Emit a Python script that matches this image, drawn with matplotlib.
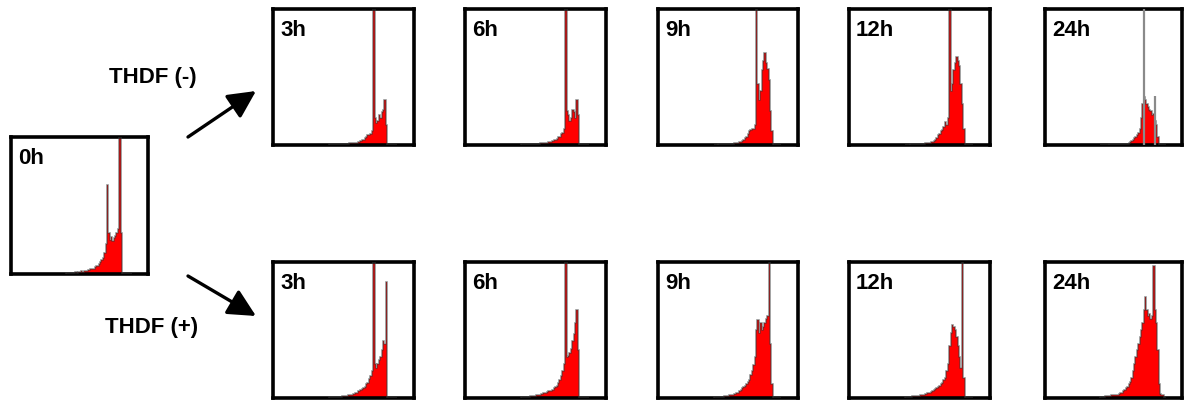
import numpy as np
import matplotlib
matplotlib.use("Agg")
import matplotlib.pyplot as plt

# ---------------- data ----------------
bin_start = 0.40
bin_width = 0.01
n_bins = 48

time_labels = ["3h", "6h", "9h", "12h", "24h"]
row_labels = ["THDF (-)", "THDF (+)"]

h0 = [0.005, 0.005, 0.01, 0.005, 0.01, 0.01, 0.01, 0.015, 0.01, 0.015,
      0.015, 0.02, 0.015, 0.02, 0.02, 0.025, 0.03, 0.03, 0.04, 0.035,
      0.04, 0.05, 0.06, 0.06, 0.07, 0.09, 0.10, 0.12, 0.15, 0.22,
      0.65, 0.30, 0.25, 0.27, 0.24, 0.26, 0.28, 0.30, 0.33, 1.05,
      0.30]

minus_3h = [0.005, 0.005, 0.005, 0.005, 0.005, 0.005, 0.005, 0.008, 0.008, 0.008,
            0.01, 0.01, 0.01, 0.01, 0.012, 0.012, 0.012, 0.015, 0.015, 0.018,
            0.02, 0.025, 0.03, 0.035, 0.04, 0.05, 0.06, 0.07, 0.07, 0.08,
            0.10, 1.05, 0.20, 0.16, 0.18, 0.22, 0.20, 0.24, 0.26, 0.33,
            0.15]
minus_6h = [0.005, 0.005, 0.005, 0.005, 0.005, 0.005, 0.005, 0.008, 0.008, 0.008,
            0.01, 0.01, 0.01, 0.012, 0.012, 0.012, 0.015, 0.015, 0.018, 0.02,
            0.02, 0.025, 0.03, 0.035, 0.04, 0.045, 0.06, 0.06, 0.08, 0.09,
            0.12, 1.05, 0.25, 0.22, 0.18, 0.20, 0.26, 0.24, 0.20, 0.33,
            0.22]
minus_9h = [0.003, 0.003, 0.003, 0.005, 0.005, 0.005, 0.005, 0.005, 0.008, 0.008,
            0.008, 0.01, 0.01, 0.01, 0.012, 0.012, 0.015, 0.015, 0.02, 0.025,
            0.03, 0.035, 0.05, 0.06, 0.08, 0.10, 0.11, 0.12, 0.12, 0.15,
            1.05, 0.45, 0.33, 0.40, 0.55, 0.62, 0.68, 0.60, 0.56, 0.48,
            0.25, 0.10]
minus_12h = [0.003, 0.003, 0.003, 0.005, 0.005, 0.005, 0.005, 0.005, 0.008, 0.008,
             0.008, 0.01, 0.01, 0.01, 0.012, 0.012, 0.015, 0.015, 0.02, 0.025,
             0.03, 0.04, 0.05, 0.07, 0.08, 0.10, 0.11, 0.13, 0.17, 0.15,
             0.20, 1.05, 0.40, 0.45, 0.55, 0.60, 0.65, 0.62, 0.58, 0.45,
             0.30, 0.12]
minus_24h = [0.002, 0.002, 0.002, 0.003, 0.003, 0.003, 0.003, 0.004, 0.004, 0.004,
             0.005, 0.005, 0.005, 0.005, 0.006, 0.006, 0.006, 0.008, 0.008, 0.01,
             0.01, 0.015, 0.02, 0.03, 0.04, 0.05, 0.06, 0.07, 0.09, 0.12,
             0.20, 0.30, 0.35, 0.33, 0.30, 0.28, 0.26, 0.25, 0.22, 0.23,
             0.18, 0.15, 0.06]

plus_3h = [0.005, 0.005, 0.005, 0.008, 0.008, 0.01, 0.01, 0.01, 0.01, 0.012,
           0.012, 0.015, 0.015, 0.02, 0.02, 0.02, 0.025, 0.03, 0.035, 0.04,
           0.05, 0.05, 0.06, 0.065, 0.07, 0.08, 0.10, 0.11, 0.14, 0.16,
           0.20, 1.05, 0.25, 0.22, 0.25, 0.28, 0.30, 0.35, 0.42, 0.40,
           0.85]
plus_6h = [0.005, 0.005, 0.008, 0.01, 0.01, 0.01, 0.012, 0.012, 0.015, 0.015,
           0.02, 0.02, 0.025, 0.025, 0.03, 0.035, 0.04, 0.04, 0.045, 0.05,
           0.05, 0.055, 0.06, 0.07, 0.08, 0.09, 0.11, 0.13, 0.16, 0.20,
           0.25, 1.05, 0.30, 0.31, 0.33, 0.36, 0.42, 0.47, 0.55, 0.65,
           0.35]
plus_9h = [0.005, 0.005, 0.008, 0.008, 0.01, 0.01, 0.01, 0.012, 0.012, 0.015,
           0.015, 0.02, 0.02, 0.025, 0.03, 0.03, 0.035, 0.04, 0.05, 0.06,
           0.07, 0.08, 0.09, 0.10, 0.12, 0.13, 0.17, 0.20, 0.24, 0.30,
           0.50, 0.57, 0.48, 0.55, 0.50, 0.52, 0.55, 0.58, 0.60, 1.05,
           0.40, 0.10]
plus_12h = [0.008, 0.008, 0.01, 0.01, 0.01, 0.012, 0.012, 0.015, 0.015, 0.015,
            0.02, 0.02, 0.025, 0.025, 0.03, 0.035, 0.04, 0.04, 0.045, 0.05,
            0.06, 0.065, 0.07, 0.08, 0.09, 0.10, 0.11, 0.13, 0.15, 0.20,
            0.25, 0.38, 0.48, 0.54, 0.52, 0.50, 0.45, 0.38, 0.30, 0.22,
            1.05, 0.15]
plus_24h = [0.005, 0.01, 0.01, 0.01, 0.012, 0.012, 0.015, 0.015, 0.02, 0.02,
            0.02, 0.02, 0.025, 0.025, 0.03, 0.035, 0.04, 0.05, 0.06, 0.07,
            0.08, 0.10, 0.12, 0.15, 0.20, 0.25, 0.30, 0.35, 0.40, 0.45,
            0.50, 0.55, 0.65, 0.74, 0.65, 0.60, 0.62, 0.58, 0.60, 0.97,
            0.65, 0.55, 0.35, 0.10, 0.03, 0.02, 0.02]

# thin grey spikes drawn on top (position, height)
spikes_minus_24h = [(0.725, 1.05), (0.805, 0.36)]

minus_rows = [minus_3h, minus_6h, minus_9h, minus_12h, minus_24h]
plus_rows = [plus_3h, plus_6h, plus_9h, plus_12h, plus_24h]

# ---------------- layout ----------------
W, H = 1184, 401
fig = plt.figure(figsize=(W / 100, H / 100), dpi=100)
edges = bin_start + bin_width * np.arange(n_bins + 1)


def px_axes(x0, y0, x1, y1):
    return fig.add_axes([x0 / W, 1 - y1 / H, (x1 - x0) / W, (y1 - y0) / H])


def draw_hist(ax, vals, label, spikes=()):
    v = np.zeros(n_bins)
    v[:len(vals)] = vals
    ax.stairs(v, edges, fill=True, color="#ff0000", zorder=2)
    ax.stairs(v, edges, color="#3a3a3a", lw=1.1, alpha=0.6, zorder=3)
    for sx, sh in spikes:
        ax.vlines(sx, 0, sh, color="#8a8a8a", lw=1.6, zorder=4)
    ax.set_xlim(0, 1)
    ax.set_ylim(0, 1)
    ax.set_xticks([])
    ax.set_yticks([])
    for s in ax.spines.values():
        s.set_linewidth(2.6)
        s.set_color("black")
    ax.text(0.05, 0.92, label, transform=ax.transAxes, ha="left", va="top",
            fontsize=16, fontweight="bold", family="Liberation Sans", zorder=5)


ax0 = px_axes(11, 137, 148, 274)
draw_hist(ax0, h0, "0h")

lefts = [273, 465, 658, 849, 1045]
widths = [141, 141, 140, 141, 137]
for i, (lab, vals) in enumerate(zip(time_labels, minus_rows)):
    ax = px_axes(lefts[i], 9, lefts[i] + widths[i], 145)
    draw_hist(ax, vals, lab, spikes_minus_24h if lab == "24h" else ())
for i, (lab, vals) in enumerate(zip(time_labels, plus_rows)):
    ax = px_axes(lefts[i], 262, lefts[i] + widths[i], 398)
    draw_hist(ax, vals, lab)

fig.text(153 / W, 1 - 77 / H, row_labels[0], ha="center", va="center",
         fontsize=16, fontweight="bold", family="Liberation Sans")
fig.text(152 / W, 1 - 328 / H, row_labels[1], ha="center", va="center",
         fontsize=16, fontweight="bold", family="Liberation Sans")

arrow_kw = dict(arrowstyle="-|>,head_length=1.2,head_width=0.6", color="black",
                lw=2.4, shrinkA=0, shrinkB=0)
fig.add_artist(matplotlib.patches.FancyArrowPatch(
    (188 / W, 1 - 137 / H), (256 / W, 1 - 91 / H), transform=fig.transFigure,
    mutation_scale=14, **arrow_kw))
fig.add_artist(matplotlib.patches.FancyArrowPatch(
    (188 / W, 1 - 276 / H), (256 / W, 1 - 316 / H), transform=fig.transFigure,
    mutation_scale=14, **arrow_kw))

fig.savefig("out.png", dpi=100)
